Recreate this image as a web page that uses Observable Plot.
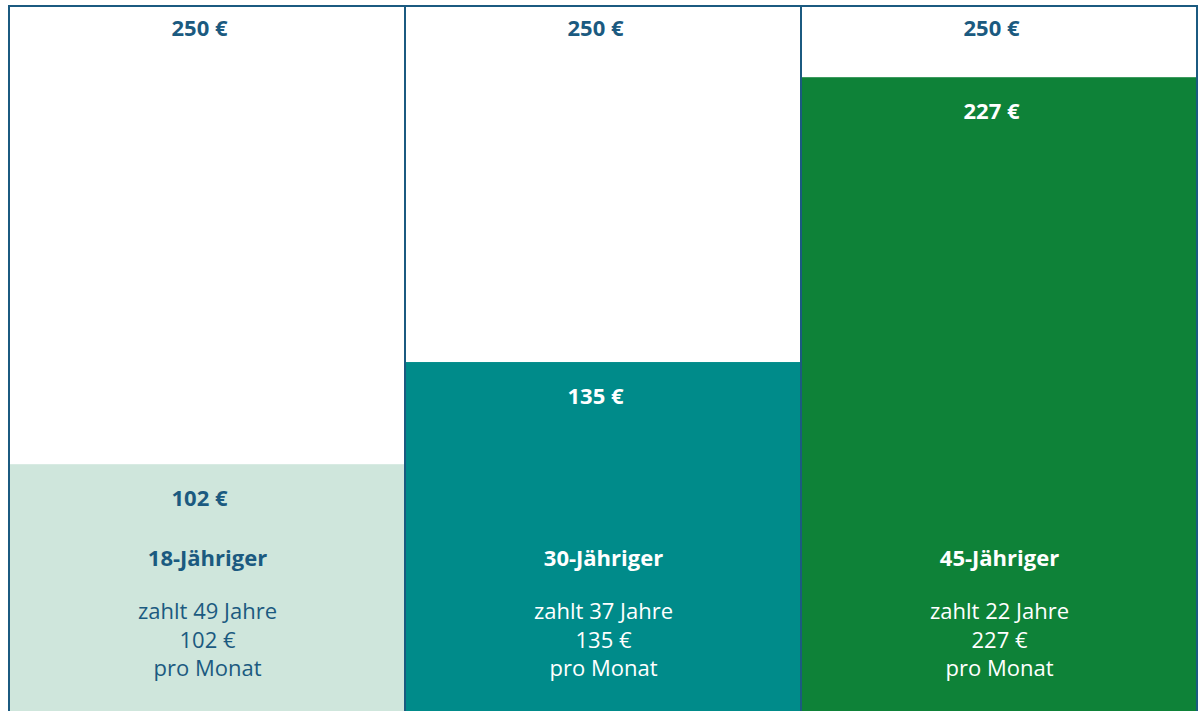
<!DOCTYPE html>
<html>
<head>
<meta charset="utf-8">
<script src="https://cdn.jsdelivr.net/npm/d3@7"></script>
<script src="https://cdn.jsdelivr.net/npm/@observablehq/plot@0.6"></script>
<style>
  html, body { margin: 0; padding: 0; background: #ffffff; }
  #chart svg { display: block; overflow: hidden; }
</style>
</head>
<body>
<div id="chart"></div>
<script>
// ---- data ----
const ages = ["18-Jähriger", "30-Jähriger", "45-Jähriger"];
const monthly = [102, 135, 227];          // € pro Monat
const years = [49, 37, 22];               // Beitragsjahre
const maxAmount = 250;                    // € Höchstbetrag

const rows = ages.map((age, i) => ({
  age,
  value: monthly[i],
  years: years[i],
  max: maxAmount
}));

const blue = "#1b5a80";
const euro = v => `${v} €`;
const textFill = d => d.age === ages[0] ? blue : "#ffffff";
const font = "'Open Sans', 'Noto Sans', sans-serif";

const chart = Plot.plot({
  width: 1199,
  height: 711,
  marginTop: 6,
  marginLeft: 9,
  marginRight: 2,
  marginBottom: 0,
  style: { fontFamily: font, background: "#ffffff" },
  x: { domain: ages, padding: 0, axis: null },
  y: { domain: [0, maxAmount], range: [780, 6], axis: null },
  color: { domain: ages, range: ["#cfe6dc", "#008b8a", "#0e8238"] },
  marks: [
    // filled amount
    Plot.barY(rows, { x: "age", y: "value", fill: "age", inset: 0 }),
    // outline = maximum 250 €
    Plot.barY(rows, { x: "age", y: "max", fill: "none", stroke: blue, strokeWidth: 2, inset: 0 }),
    // top labels
    Plot.text(rows, {
      x: "age", y: "max", text: d => euro(d.max), dy: 22, dx: -8,
      fill: blue, fontSize: 22, fontWeight: 700, lineAnchor: "middle"
    }),
    // value labels under the fill top
    Plot.text(rows, {
      x: "age", y: "value", text: d => euro(d.value), dy: 34, dx: -8,
      fill: textFill, fontSize: 22, fontWeight: 700, lineAnchor: "middle"
    }),
    // age titles
    Plot.text(rows, {
      x: "age", frameAnchor: "top", text: "age", dy: 552,
      fill: textFill, fontSize: 22, fontWeight: 700, lineAnchor: "middle"
    }),
    // description
    Plot.text(rows, {
      x: "age", frameAnchor: "top",
      text: d => `zahlt ${d.years} Jahre\n${euro(d.value)}\npro Monat`,
      dy: 632, lineHeight: 1.28,
      fill: textFill, fontSize: 22, fontWeight: 400, lineAnchor: "middle"
    })
  ]
});

document.getElementById("chart").appendChild(chart);
</script>
</body>
</html>
